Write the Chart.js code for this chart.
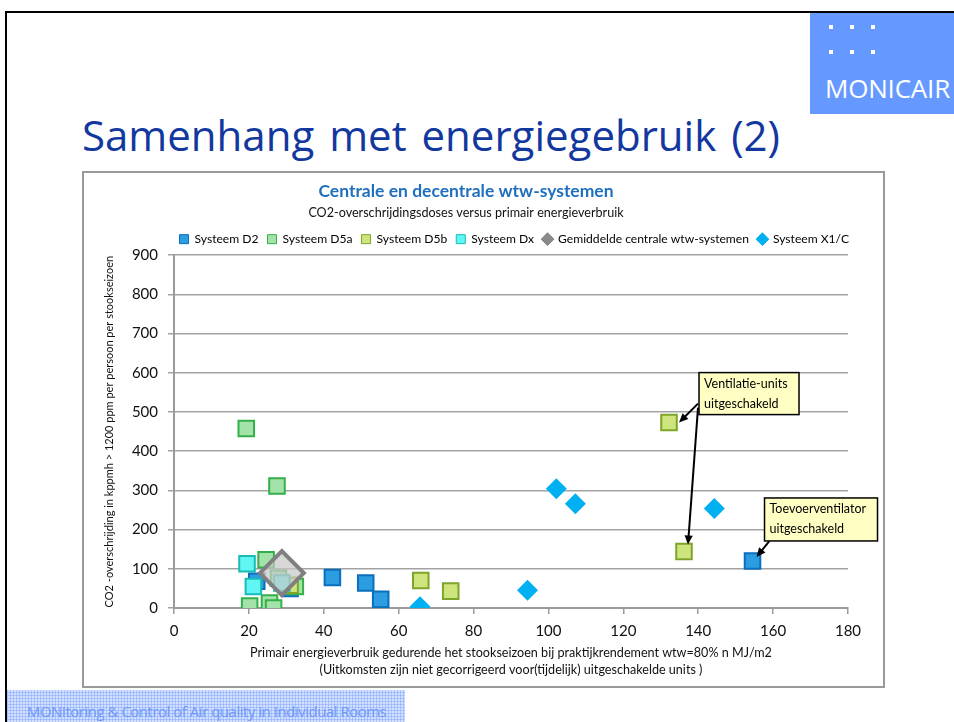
<!DOCTYPE html>
<html>
<head>
<meta charset="utf-8">
<script src="https://cdn.jsdelivr.net/npm/chart.js@4.4.1/dist/chart.umd.min.js"></script>
<style>
  html, body { margin: 0; padding: 0; background: #fff; }
  body { width: 954px; height: 722px; position: relative; overflow: hidden; font-family: Lato, "Open Sans", sans-serif; }
  .slide-top { position: absolute; left: 5px; top: 11px; width: 949px; height: 0; border-top: 2px solid #000; }
  .slide-left { position: absolute; left: 5px; top: 11px; width: 0; height: 711px; border-left: 2px solid #000; }
  .logo { position: absolute; left: 810px; top: 13px; width: 144px; height: 101px; background: #6699ff; }
  .logo i { position: absolute; width: 4px; height: 4px; background: #fff; }
  .logo span { position: absolute; left: 15px; top: 57px; color: #fff; font: 26px "Open Sans", sans-serif; letter-spacing: -0.2px; }
  h1 { position: absolute; left: 82px; top: 114px; margin: 0; font: 400 42px/42px "Open Sans", sans-serif; color: #1238a0; white-space: nowrap; word-spacing: 4px; }
  .frame { position: absolute; left: 82px; top: 171px; width: 803px; height: 517px; box-sizing: border-box; border: 2px solid #9a9a9a; }
  #wrap { position: absolute; left: 84px; top: 173px; width: 799px; height: 513px; }
  .footer { position: absolute; left: 7px; top: 690px; width: 398px; height: 32px;
    background-color: #d3e0ff;
    background-image: linear-gradient(90deg, rgba(120,160,255,0.45) 1px, transparent 1px),
                      linear-gradient(0deg, rgba(120,160,255,0.45) 1px, transparent 1px);
    background-size: 3px 3px; }
  .footer span { position: absolute; left: 20px; top: 11px; color: #6f98f7; font: 14.8px "Open Sans", sans-serif; white-space: nowrap; letter-spacing: -0.4px; }
</style>
</head>
<body>
<div class="slide-top"></div>
<div class="slide-left"></div>
<div class="logo">
  <i style="left:19px;top:12px"></i><i style="left:40px;top:12px"></i><i style="left:61px;top:12px"></i>
  <i style="left:19px;top:37px"></i><i style="left:40px;top:37px"></i><i style="left:61px;top:37px"></i>
  <span>MONICAIR</span>
</div>
<h1>Samenhang met energiegebruik (2)</h1>
<div class="frame"></div>
<div id="wrap"><canvas id="co2Chart" width="799" height="513"></canvas></div>
<div class="footer"><span>MONItoring &amp; Control of Air quality in Individual Rooms</span></div>

<script>
// data (x = MJ/m2, y = kppmh)
const seriesNames = ['Systeem D2', 'Systeem D5a', 'Systeem D5b', 'Systeem Dx', 'Gemiddelde centrale wtw-systemen', 'Systeem X1/C'];

const d2X = [22.1, 31.0, 42.3, 51.2, 55.2, 154.5];
const d2Y = [68, 50, 78, 64, 22, 120];

const d5aX = [19.3, 27.5, 24.6, 27.9, 32.4, 20.2, 25.5, 26.6];
const d5aY = [458, 311, 123, 76, 55, 5, 13, 0];

const d5bX = [31.0, 65.9, 73.9, 132.2, 136.2];
const d5bY = [58, 70, 43, 473, 144];

const dxX = [19.5, 21.2, 28.8];
const dxY = [113, 55, 64];

const avgX = [28.8];
const avgY = [89];

const x1cX = [65.7, 94.4, 102.1, 107.2, 144.3];
const x1cY = [3, 45, 304, 266, 254];

const xTicks = [0, 20, 40, 60, 80, 100, 120, 140, 160, 180];
const yTicks = [0, 100, 200, 300, 400, 500, 600, 700, 800, 900];

const toPoints = (xs, ys) => xs.map((x, i) => ({ x: x, y: ys[i] }));

const calloutText = [
  ['Ventilatie-units', 'uitgeschakeld'],
  ['Toevoerventilator', 'uitgeschakeld']
];

const calloutPlugin = {
  id: 'callouts',
  afterLayout(chart) {
    // legend sits a bit to the right of centre in the original
    chart.legend.left += 10;
    chart.legend.right += 10;
  },
  afterDatasetsDraw(chart) {
    const c = chart.ctx;
    const xs = chart.scales.x, ys = chart.scales.y;
    const data = chart.data.datasets;
    c.save();
    c.font = '12.5px Lato, "Open Sans", sans-serif';
    c.lineWidth = 2;
    c.strokeStyle = '#000';
    c.fillStyle = '#000';

    function arrow(x1, y1, x2, y2) {
      const a = Math.atan2(y2 - y1, x2 - x1);
      c.beginPath(); c.moveTo(x1, y1); c.lineTo(x2 - 5 * Math.cos(a), y2 - 5 * Math.sin(a)); c.stroke();
      c.beginPath();
      c.moveTo(x2, y2);
      c.lineTo(x2 - 10 * Math.cos(a - 0.42), y2 - 10 * Math.sin(a - 0.42));
      c.lineTo(x2 - 10 * Math.cos(a + 0.42), y2 - 10 * Math.sin(a + 0.42));
      c.closePath(); c.fill();
    }

    function box(bx, by, bw, bh, lines) {
      c.fillStyle = '#ffffc4';
      c.fillRect(bx, by, bw, bh);
      c.lineWidth = 1.5;
      c.strokeRect(bx, by, bw, bh);
      c.fillStyle = '#000';
      c.textBaseline = 'middle';
      c.fillText(lines[0], bx + 5, by + 11);
      c.fillText(lines[1], bx + 5, by + 31);
      c.lineWidth = 2;
    }

    // box 1 sits up-right of the first D5b outlier
    let p = data[2].data[3], q = data[2].data[4];
    let px = xs.getPixelForValue(p.x), py = ys.getPixelForValue(p.y);
    let bx = px + 30, by = py - 50;
    arrow(bx - 1, by + 31, px + 10, py);
    arrow(bx - 1, by + 35, xs.getPixelForValue(q.x) + 4, ys.getPixelForValue(q.y) - 7);
    box(bx, by, 100, 42, calloutText[0]);

    // box 2 above the right-most D2 point
    p = data[0].data[5];
    px = xs.getPixelForValue(p.x); py = ys.getPixelForValue(p.y);
    bx = px + 12; by = py - 63;
    arrow(bx + 5, by + 43, px + 4, py - 4);
    box(bx, by, 113, 43, calloutText[1]);
    c.restore();
  }
};

const sq = (fill, border) => ({
  pointStyle: 'rect', pointRadius: 11, pointHoverRadius: 11,
  backgroundColor: fill, borderColor: border, borderWidth: 2
});

const ctx = document.getElementById('co2Chart').getContext('2d');
const co2Chart = new Chart(ctx, {
  type: 'scatter',
  data: {
    datasets: [
      Object.assign({ label: seriesNames[0], data: toPoints(d2X, d2Y), order: 6 }, sq('#2c9de0', '#0b6fbd')),
      Object.assign({ label: seriesNames[1], data: toPoints(d5aX, d5aY), order: 5 }, sq('#a3e3a9', '#34b04a')),
      Object.assign({ label: seriesNames[2], data: toPoints(d5bX, d5bY), order: 4 }, sq('#cde57c', '#7ea52a')),
      Object.assign({ label: seriesNames[3], data: toPoints(dxX, dxY), order: 3 }, sq('#5ff6f4', '#1bbab6')),
      { label: seriesNames[4], data: toPoints(avgX, avgY), order: 2,
        pointStyle: 'rectRot', pointRadius: 22, pointHoverRadius: 22,
        backgroundColor: 'rgba(200,200,200,0.72)', borderColor: '#808080', borderWidth: 4 },
      { label: seriesNames[5], data: toPoints(x1cX, x1cY), order: 1,
        pointStyle: 'rectRot', pointRadius: 10.5, pointHoverRadius: 10.5,
        backgroundColor: '#00b0f0', borderColor: '#00b0f0', borderWidth: 0 }
    ]
  },
  options: {
    responsive: false,
    animation: false,
    layout: { padding: { left: 0, right: 35, top: 0, bottom: 0 } },
    plugins: {
      title: {
        display: true,
        text: 'Centrale en decentrale wtw-systemen',
        color: '#1f6fc0',
        font: { family: 'Lato', size: 17.5, weight: 'bold' },
        padding: { top: 8, bottom: 0 }
      },
      subtitle: {
        display: true,
        text: 'CO2-overschrijdingsdoses versus primair energieverbruik',
        color: '#111',
        font: { family: 'Lato', size: 12.6 },
        padding: { top: 3, bottom: 4 }
      },
      legend: {
        position: 'top',
        align: 'end',
        labels: {
          color: '#111',
          font: { family: 'Lato', size: 12.1 },
          usePointStyle: true,
          boxWidth: 9, boxHeight: 9,
          padding: 9,
          generateLabels(chart) {
            return chart.data.datasets.map((d, i) => ({
              text: d.label,
              fillStyle: d.backgroundColor === 'rgba(200,200,200,0.72)' ? '#8a8a8a' : d.backgroundColor,
              strokeStyle: d.borderColor,
              lineWidth: 1,
              pointStyle: d.pointStyle,
              datasetIndex: i,
              hidden: false
            }));
          }
        }
      },
      tooltip: { enabled: false }
    },
    scales: {
      x: {
        type: 'linear',
        min: 0, max: 180,
        afterFit(scale) { scale.height = 78; },
        afterBuildTicks(scale) { scale.ticks = xTicks.map(v => ({ value: v })); },
        grid: { drawOnChartArea: false, drawTicks: true, tickLength: 6, color: '#9a9a9a', lineWidth: 1.5 },
        border: { display: true, color: '#9a9a9a', width: 2 },
        ticks: { color: '#111', font: { family: 'Lato', size: 15 }, padding: 8 },
        title: {
          display: true,
          text: ['Primair energieverbruik gedurende het stookseizoen bij praktijkrendement wtw=80% n MJ/m2',
                 '(Uitkomsten zijn niet gecorrigeerd voor(tijdelijk) uitgeschakelde units )'],
          color: '#111',
          font: { family: 'Lato', size: 12.6, lineHeight: 1.35 },
          padding: { top: 0, bottom: 8 }
        }
      },
      y: {
        type: 'linear',
        min: 0, max: 900,
        afterFit(scale) { scale.width = 90; },
        afterBuildTicks(scale) { scale.ticks = yTicks.map(v => ({ value: v })); },
        grid: { drawOnChartArea: true, drawTicks: true, tickLength: 6, color: '#a3a3a3', lineWidth: 1.5 },
        border: { display: true, color: '#9a9a9a', width: 2 },
        ticks: { color: '#111', font: { family: 'Lato', size: 15 }, padding: 10 },
        title: {
          display: true,
          text: 'CO2 -overschrijding in kppmh > 1200 ppm per persoon per stookseizoen',
          color: '#111',
          font: { family: 'Lato', size: 11 },
          padding: { top: 19, bottom: 0 }
        }
      }
    }
  },
  plugins: [calloutPlugin]
});
</script>
</body>
</html>
